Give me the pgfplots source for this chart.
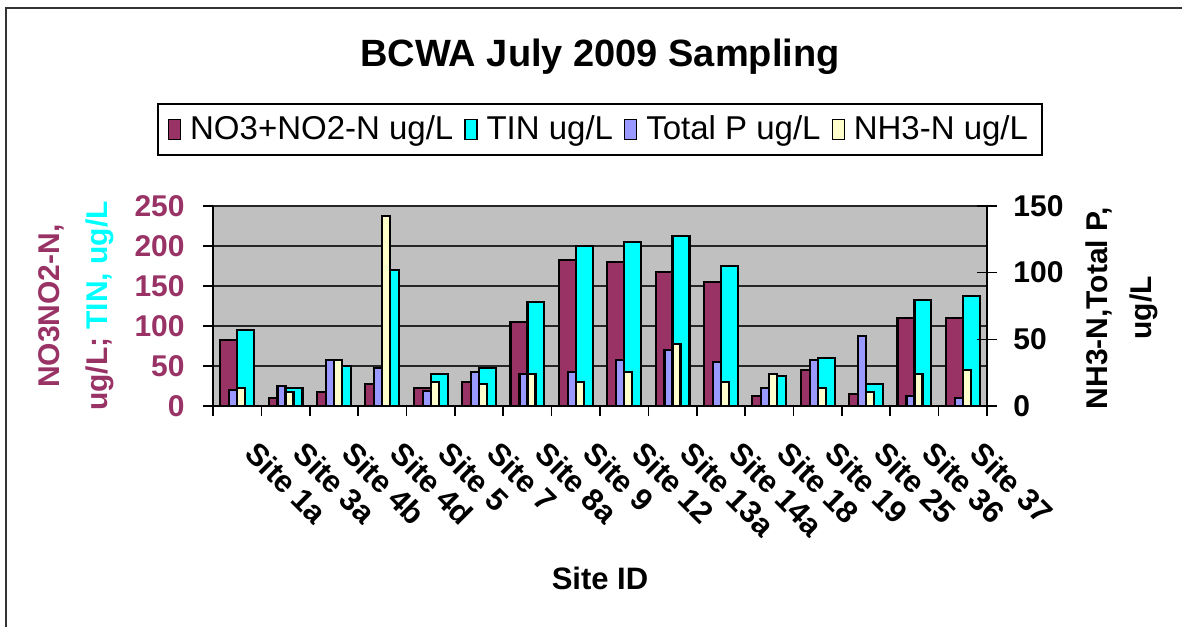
\documentclass[border=0pt]{standalone}
\usepackage{fontspec}
\setmainfont{Liberation Sans}
\usepackage{pgfplots}
\usepackage{pgfplotstable}
\pgfplotsset{compat=1.18}
\definecolor{cNO}{HTML}{993366}
\definecolor{cTIN}{HTML}{00FFFF}
\definecolor{cTP}{HTML}{9999FF}
\definecolor{cNH}{HTML}{FFFFCC}
\definecolor{cBG}{HTML}{C0C0C0}
\pgfplotstableread{
x no tin tp nh
0 82.5 95 12 13.7
1 10 23 15.2 10.7
2 18 50 34.5 34.5
3 27.5 170 28.3 142.7
4 23 40 11.5 18.2
5 30.4 48 25.7 16.5
6 105 130 24 24
7 182.5 200 25.7 18.2
8 180 205 34.7 25.7
9 168 213 42.2 46.7
10 155 175 33.2 18.2
11 12.5 37.5 13.7 24
12 45 60 34.7 13.7
13 15 27.5 52.5 10.5
14 110 132.5 7.5 24
15 110 138 6.2 27.2
}\data
\begin{document}
\begin{tikzpicture}
\begin{axis}[
  at={(0,0)}, anchor=south west,
  scale only axis, width=387pt, height=100pt,
  xmin=-0.5, xmax=15.5, ymin=0, ymax=250,
  axis x line*=bottom, axis y line*=left,
  axis line style={-, black, line width=0.9pt},
  axis background/.style={fill=cBG, draw=gray, line width=0.7pt},
  ytick={0,50,...,250},
  ymajorgrids, major grid style={black!85, line width=0.6pt},
  xtick={-0.5,0.5,...,15.5}, xticklabels={},
  extra x ticks={0,...,15},
  extra x tick labels={Site 1a,Site 3a,Site 4b,Site 4d,Site 5,Site 7,Site 8a,Site 9,Site 12,Site 13a,Site 14a,Site 18,Site 19,Site 25,Site 36,Site 37},
  extra x tick style={major tick length=0pt, grid=none,
    xticklabel style={anchor=north west, inner sep=0pt, xshift=11pt, yshift=-16.5pt, rotate=-45, font=\fontsize{15.5}{18}\selectfont\bfseries}},
  tick align=outside, major tick length=5pt,
  tick style={black, line width=0.8pt},
  /pgf/number format/assume math mode=true,
  yticklabel style={anchor=east, inner sep=0pt, xshift=-9pt, text=cNO, font=\fontsize{15}{18}\selectfont\bfseries},
  ylabel={{\color{cNO}NO3NO2-N,}\\{\color{cNO}ug/L;} {\color{cTIN}TIN, ug/L}},
  ylabel style={at={(axis description cs:-0.177,0.5)}, anchor=center, align=center, font=\fontsize{15}{24}\selectfont\bfseries},
  xlabel={Site ID},
  xlabel style={at={(axis description cs:0.5,-0.915)}, anchor=base, font=\fontsize{15.5}{18}\selectfont\bfseries},
  title={BCWA July 2009 Sampling},
  title style={at={(axis description cs:0.5,1.64)}, anchor=base, font=\fontsize{19}{23}\selectfont\bfseries},
]
\addplot[ybar, bar width=0.35, bar shift=-0.175, fill=cNO, draw=black, line width=1.1pt] table[x=x,y=no]{\data};
\addplot[ybar, bar width=0.35, bar shift=0.175, fill=cTIN, draw=black, line width=1.1pt] table[x=x,y=tin]{\data};
\end{axis}
\begin{axis}[
  at={(0,0)}, anchor=south west,
  scale only axis, width=387pt, height=100pt,
  xmin=-0.5, xmax=15.5, ymin=0, ymax=150,
  axis x line=none, axis y line*=right,
  axis line style={-, black, line width=0.9pt},
  ytick={0,50,100,150},
  tick align=center, major tick length=10pt,
  tick style={black, line width=0.8pt},
  /pgf/number format/assume math mode=true,
  yticklabel style={anchor=west, inner sep=0pt, xshift=8pt, font=\fontsize{15}{18}\selectfont\bfseries},
  ylabel={NH3-N,Total P,\\ug/L},
  ylabel style={at={(axis description cs:1.1744,0.49)}, anchor=center, align=center, font=\fontsize{15}{22}\selectfont\bfseries},
  legend columns=4,
  legend style={at={(axis description cs:0.5,1.3825)}, anchor=center, draw=black, line width=0.8pt,
    font=\fontsize{16.5}{20}\selectfont, inner xsep=5pt, inner ysep=4pt,
    /tikz/every odd column/.append style={column sep=2.5pt},
    /tikz/every even column/.append style={column sep=3.5pt}},
  legend image code/.code={\draw[#1, line width=0.6pt] (0pt,-5pt) rectangle (6pt,5pt);},
]
\addlegendimage{fill=cNO, draw=black}
\addlegendimage{fill=cTIN, draw=black}
\addplot[ybar, bar width=0.165, bar shift=-0.0825, fill=cTP, draw=black, line width=1.1pt] table[x=x,y=tp]{\data};
\addplot[ybar, bar width=0.165, bar shift=0.0825, fill=cNH, draw=black, line width=1.1pt] table[x=x,y=nh]{\data};
\legend{NO3+NO2-N ug/L,TIN ug/L,Total P ug/L,NH3-N ug/L}
\end{axis}
\draw[line width=1pt, black!80] (-103.5pt,-110.5pt) -- (-103.5pt,199pt) -- (484.5pt,199pt);
\pgfresetboundingbox
\useasboundingbox (-106.5pt,-110.5pt) rectangle (484.5pt,203pt);
\end{tikzpicture}
\end{document}
